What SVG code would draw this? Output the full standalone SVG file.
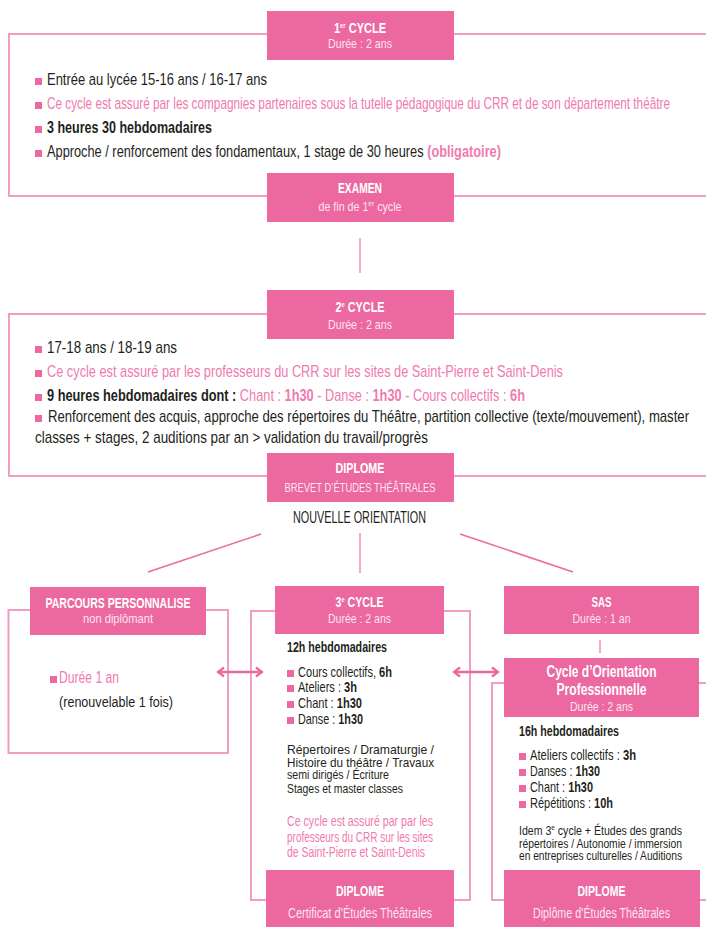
<svg xmlns="http://www.w3.org/2000/svg" width="706" height="927" viewBox="0 0 706 927">
<style>
text{font-family:"Liberation Sans",Arial,sans-serif;}
.hd{fill:#ec68a0;}
.ol{fill:none;stroke:#f29cc3;stroke-width:2;}
.bl{fill:#ec68a0;}
.k{fill:#231f20;}
.pk{fill:#f07aae;}
.w{fill:#ffffff;font-weight:bold;}
.sub{fill:#fde4ef;}
.b{font-weight:bold;}
.ln{stroke:#ec68a0;stroke-width:1.5;fill:none;}
.vl{stroke:#f08cb8;stroke-width:1.5;fill:none;}
.ar{stroke:#ec68a0;stroke-width:2.5;fill:none;marker-start:url(#ah);marker-end:url(#ah);}
</style>
<defs>
<marker id="ah" markerUnits="userSpaceOnUse" markerWidth="12" markerHeight="12" refX="8" refY="6" orient="auto-start-reverse">
<path d="M2,1.5 L8,6 L2,10.5" fill="none" stroke="#ec68a0" stroke-width="2.2"/>
</marker>
</defs>

<!-- outlines -->
<g id="cycle1">
<rect class="ol" x="9" y="34" width="710" height="162"/>
<rect class="bl" x="35" y="78" width="7" height="7"/>
<text class="k" x="47" y="85" font-size="17" textLength="220" lengthAdjust="spacingAndGlyphs">Entrée au lycée 15-16 ans / 16-17 ans</text>
<rect class="bl" x="35" y="102" width="7" height="7"/>
<text class="pk" x="47" y="109" font-size="17" textLength="623" lengthAdjust="spacingAndGlyphs">Ce cycle est assuré par les compagnies partenaires sous la tutelle pédagogique du CRR et de son département théâtre</text>
<rect class="bl" x="35" y="126" width="7" height="7"/>
<text class="k b" x="47" y="133" font-size="17" textLength="165" lengthAdjust="spacingAndGlyphs">3 heures 30 hebdomadaires</text>
<rect class="bl" x="35" y="150" width="7" height="7"/>
<text class="k" x="47" y="157" font-size="17" textLength="454" lengthAdjust="spacingAndGlyphs">Approche / renforcement des fondamentaux, 1 stage de 30 heures <tspan class="pk b">(obligatoire)</tspan></text>
</g>

<g id="cycle1-header">
<rect class="hd" x="267" y="11" width="187" height="49"/>
<text class="w" x="360" y="33" font-size="15" text-anchor="middle" textLength="52" lengthAdjust="spacingAndGlyphs">1<tspan font-size="8" dy="-5">er</tspan><tspan dy="5"> CYCLE</tspan></text>
<text class="sub" x="360" y="48" font-size="13" text-anchor="middle" textLength="64" lengthAdjust="spacingAndGlyphs">Durée : 2 ans</text>
</g>

<g id="examen">
<rect class="hd" x="267" y="173" width="187" height="49"/>
<text class="w" x="360" y="193" font-size="15" text-anchor="middle" textLength="44" lengthAdjust="spacingAndGlyphs">EXAMEN</text>
<text class="sub" x="360" y="211" font-size="13" text-anchor="middle" textLength="83" lengthAdjust="spacingAndGlyphs">de fin de 1<tspan font-size="8" dy="-5">er</tspan><tspan dy="5"> cycle</tspan></text>
</g>

<g id="cycle2">
<rect class="ol" x="9" y="314" width="710" height="162"/>
<rect class="bl" x="35" y="346" width="7" height="7"/>
<text class="k" x="47" y="353" font-size="17" textLength="130" lengthAdjust="spacingAndGlyphs">17-18 ans / 18-19 ans</text>
<rect class="bl" x="35" y="370" width="7" height="7"/>
<text class="pk" x="47" y="377" font-size="17" textLength="516" lengthAdjust="spacingAndGlyphs">Ce cycle est assuré par les professeurs du CRR sur les sites de Saint-Pierre et Saint-Denis</text>
<rect class="bl" x="35" y="394" width="7" height="7"/>
<text class="k" x="47" y="401" font-size="17" textLength="478" lengthAdjust="spacingAndGlyphs"><tspan class="b">9 heures hebdomadaires dont :</tspan><tspan class="pk"> Chant : </tspan><tspan class="pk b">1h30</tspan><tspan class="pk"> - Danse : </tspan><tspan class="pk b">1h30</tspan><tspan class="pk"> - Cours collectifs : </tspan><tspan class="pk b">6h</tspan></text>
<rect class="bl" x="35" y="415" width="7" height="7"/>
<text class="k" x="48" y="422" font-size="17" textLength="641" lengthAdjust="spacingAndGlyphs">Renforcement des acquis, approche des répertoires du Théâtre, partition collective (texte/mouvement), master</text>
<text class="k" x="35" y="443" font-size="17" textLength="393" lengthAdjust="spacingAndGlyphs">classes + stages, 2 auditions par an &gt; validation du travail/progrès</text>
</g>

<g id="cycle2-header">
<rect class="hd" x="267" y="290" width="187" height="49"/>
<text class="w" x="360" y="312" font-size="15" text-anchor="middle" textLength="49" lengthAdjust="spacingAndGlyphs">2<tspan font-size="8" dy="-5">e</tspan><tspan dy="5"> CYCLE</tspan></text>
<text class="sub" x="360" y="329" font-size="13" text-anchor="middle" textLength="64" lengthAdjust="spacingAndGlyphs">Durée : 2 ans</text>
</g>

<g id="diplome-bet">
<rect class="hd" x="267" y="453" width="187" height="49"/>
<text class="w" x="360" y="473" font-size="15" text-anchor="middle" textLength="49" lengthAdjust="spacingAndGlyphs">DIPLOME</text>
<text class="sub" x="360" y="492" font-size="13" text-anchor="middle" textLength="151" lengthAdjust="spacingAndGlyphs">BREVET D’ÉTUDES THÉÂTRALES</text>
</g>

<g id="nouvelle-orientation">
<text class="k" x="359.5" y="523" font-size="16.5" text-anchor="middle" textLength="133" lengthAdjust="spacingAndGlyphs">NOUVELLE ORIENTATION</text>
</g>

<g id="parcours">
<rect class="ol" x="8.5" y="610" width="219.5" height="143"/>
<rect class="hd" x="30" y="587" width="176" height="48"/>
<text class="w" x="118" y="608" font-size="15" text-anchor="middle" textLength="145" lengthAdjust="spacingAndGlyphs">PARCOURS PERSONNALISE</text>
<text class="sub" x="118" y="623" font-size="13" text-anchor="middle" textLength="70" lengthAdjust="spacingAndGlyphs">non diplômant</text>
<rect class="bl" x="50" y="676" width="7" height="7"/>
<text class="pk" x="59" y="683" font-size="16" textLength="60" lengthAdjust="spacingAndGlyphs">Durée 1 an</text>
<text class="k" x="59" y="707" font-size="15.5" textLength="114" lengthAdjust="spacingAndGlyphs">(renouvelable 1 fois)</text>
</g>

<g id="cycle3">
<rect class="ol" x="251" y="611" width="219" height="289"/>
<rect class="hd" x="275" y="586" width="169" height="48"/>
<text class="w" x="359.5" y="607" font-size="15" text-anchor="middle" textLength="48" lengthAdjust="spacingAndGlyphs">3<tspan font-size="8" dy="-5">e</tspan><tspan dy="5"> CYCLE</tspan></text>
<text class="sub" x="359.5" y="623" font-size="13.5" text-anchor="middle" textLength="63" lengthAdjust="spacingAndGlyphs">Durée : 2 ans</text>
<text class="k b" x="287" y="652" font-size="14" textLength="100" lengthAdjust="spacingAndGlyphs">12h hebdomadaires</text>
<rect class="bl" x="287" y="670" width="7" height="7"/>
<text class="k" x="298" y="677" font-size="15" textLength="94" lengthAdjust="spacingAndGlyphs">Cours collectifs, <tspan class="b">6h</tspan></text>
<rect class="bl" x="287" y="685" width="7" height="7"/>
<text class="k" x="298" y="692" font-size="15" textLength="59" lengthAdjust="spacingAndGlyphs">Ateliers : <tspan class="b">3h</tspan></text>
<rect class="bl" x="287" y="701" width="7" height="7"/>
<text class="k" x="298" y="708" font-size="15" textLength="64" lengthAdjust="spacingAndGlyphs">Chant : <tspan class="b">1h30</tspan></text>
<rect class="bl" x="287" y="717" width="7" height="7"/>
<text class="k" x="298" y="724" font-size="15" textLength="65" lengthAdjust="spacingAndGlyphs">Danse : <tspan class="b">1h30</tspan></text>
<text class="k" x="287" y="754" font-size="13" textLength="147" lengthAdjust="spacingAndGlyphs">Répertoires / Dramaturgie /</text>
<text class="k" x="287" y="767" font-size="13" textLength="147" lengthAdjust="spacingAndGlyphs">Histoire du théâtre / Travaux</text>
<text class="k" x="287" y="779" font-size="13" textLength="102" lengthAdjust="spacingAndGlyphs">semi dirigés / Écriture</text>
<text class="k" x="287" y="793" font-size="13" textLength="116" lengthAdjust="spacingAndGlyphs">Stages et master classes</text>
<text class="pk" x="287" y="826" font-size="14" textLength="146" lengthAdjust="spacingAndGlyphs">Ce cycle est assuré par par les</text>
<text class="pk" x="287" y="842" font-size="14" textLength="146" lengthAdjust="spacingAndGlyphs">professeurs du CRR sur les sites</text>
<text class="pk" x="287" y="857" font-size="14" textLength="138" lengthAdjust="spacingAndGlyphs">de Saint-Pierre et Saint-Denis</text>
</g>

<g id="diplome-cet">
<rect class="hd" x="266" y="870" width="188" height="57"/>
<text class="w" x="360" y="896" font-size="15" text-anchor="middle" textLength="48" lengthAdjust="spacingAndGlyphs">DIPLOME</text>
<text class="sub" x="360" y="918" font-size="14" text-anchor="middle" textLength="144" lengthAdjust="spacingAndGlyphs">Certificat d’Études Théâtrales</text>
</g>

<g id="sas">
<rect class="hd" x="504" y="586" width="195" height="48"/>
<text class="w" x="601.5" y="607" font-size="15" text-anchor="middle" textLength="20" lengthAdjust="spacingAndGlyphs">SAS</text>
<text class="sub" x="601.5" y="623" font-size="13.5" text-anchor="middle" textLength="58" lengthAdjust="spacingAndGlyphs">Durée : 1 an</text>
</g>

<g id="cop">
<rect class="ol" x="492" y="683" width="230" height="217"/>
<rect class="hd" x="504" y="658" width="195" height="59"/>
<text class="w" x="601.5" y="677" font-size="16" text-anchor="middle" textLength="110" lengthAdjust="spacingAndGlyphs">Cycle d’Orientation</text>
<text class="w" x="601.5" y="695" font-size="16" text-anchor="middle" textLength="90" lengthAdjust="spacingAndGlyphs">Professionnelle</text>
<text class="sub" x="601.5" y="711" font-size="13.5" text-anchor="middle" textLength="63" lengthAdjust="spacingAndGlyphs">Durée : 2 ans</text>
<text class="k b" x="519" y="736" font-size="14" textLength="100" lengthAdjust="spacingAndGlyphs">16h hebdomadaires</text>
<rect class="bl" x="519" y="753" width="7" height="7"/>
<text class="k" x="530" y="760" font-size="15" textLength="106" lengthAdjust="spacingAndGlyphs">Ateliers collectifs : <tspan class="b">3h</tspan></text>
<rect class="bl" x="519" y="769" width="7" height="7"/>
<text class="k" x="530" y="776" font-size="15" textLength="70" lengthAdjust="spacingAndGlyphs">Danses : <tspan class="b">1h30</tspan></text>
<rect class="bl" x="519" y="785" width="7" height="7"/>
<text class="k" x="530" y="792" font-size="15" textLength="63" lengthAdjust="spacingAndGlyphs">Chant : <tspan class="b">1h30</tspan></text>
<rect class="bl" x="519" y="801" width="7" height="7"/>
<text class="k" x="530" y="808" font-size="15" textLength="83" lengthAdjust="spacingAndGlyphs">Répétitions : <tspan class="b">10h</tspan></text>
<text class="k" x="519" y="835" font-size="13" textLength="163" lengthAdjust="spacingAndGlyphs">Idem 3<tspan font-size="8" dy="-5">e</tspan><tspan dy="5"> cycle + Études des grands</tspan></text>
<text class="k" x="519" y="848" font-size="13" textLength="163" lengthAdjust="spacingAndGlyphs">répertoires / Autonomie / immersion</text>
<text class="k" x="519" y="860" font-size="13" textLength="163" lengthAdjust="spacingAndGlyphs">en entreprises culturelles / Auditions</text>
</g>

<g id="diplome-det">
<rect class="hd" x="504" y="870" width="196" height="57"/>
<text class="w" x="601.5" y="896" font-size="15" text-anchor="middle" textLength="48" lengthAdjust="spacingAndGlyphs">DIPLOME</text>
<text class="sub" x="601.5" y="918" font-size="14" text-anchor="middle" textLength="137" lengthAdjust="spacingAndGlyphs">Diplôme d’Études Théâtrales</text>
</g>

<g id="connectors">
<line class="vl" x1="360" y1="238" x2="360" y2="273"/>
<line class="ln" x1="261" y1="534" x2="148" y2="572"/>
<line class="vl" x1="360" y1="533" x2="360" y2="573"/>
<line class="ln" x1="460" y1="534" x2="573" y2="572"/>
<line class="vl" x1="600" y1="640" x2="600" y2="653"/>
<line class="ar" x1="218" y1="672" x2="262" y2="672"/>
<line class="ar" x1="454" y1="672" x2="498" y2="672"/>
</g>
</svg>
